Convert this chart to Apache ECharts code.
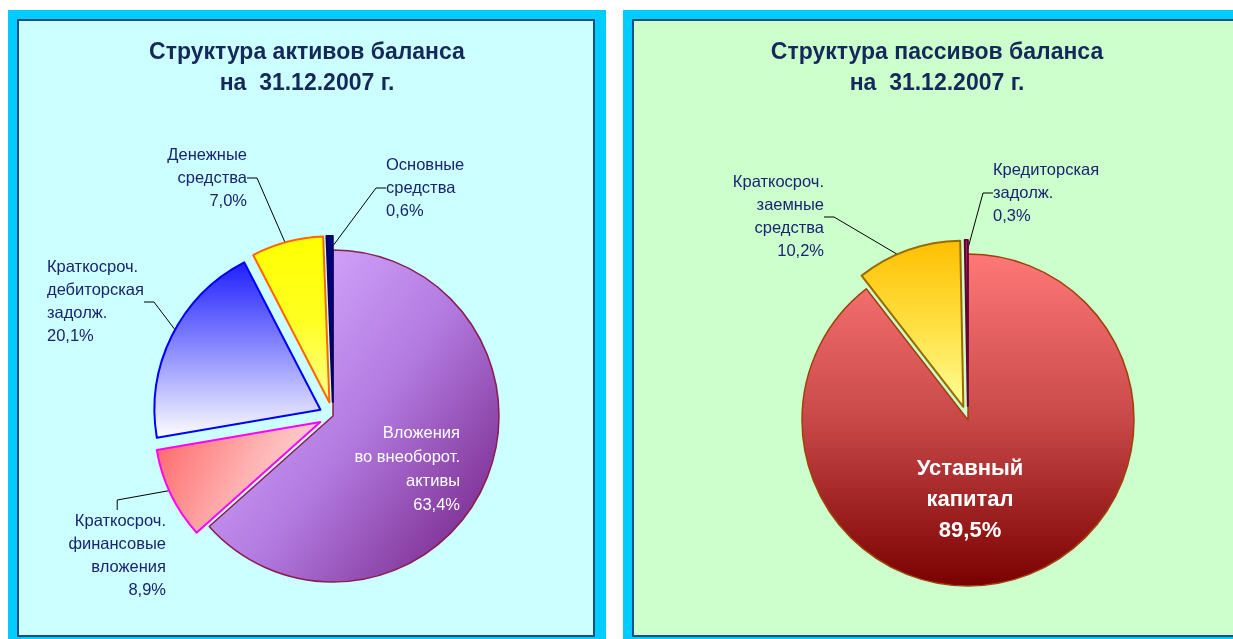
<!DOCTYPE html>
<html>
<head>
<meta charset="utf-8">
<title>Структура баланса</title>
<script src="https://cdn.jsdelivr.net/npm/echarts@6/dist/echarts.min.js"></script>
<style>
  html, body { margin: 0; padding: 0; background: #ffffff; }
  #chart { width: 1233px; height: 639px; }
</style>
</head>
<body>
<div id="chart"></div>
<script>
// данные
const assetTitle = 'Структура активов баланса\nна  31.12.2007 г.';
const liabTitle = 'Структура пассивов баланса\nна  31.12.2007 г.';

const assetNames = ['Вложения\nво внеоборот.\nактивы', 'Краткосроч.\nфинансовые\nвложения', 'Краткосроч.\nдебиторская\nзадолж.', 'Денежные\nсредства', 'Основные\nсредства'];
const assetValues = [63.4, 8.9, 20.1, 7.0, 0.6];

const liabNames = ['Уставный\nкапитал', 'Краткосроч.\nзаемные\nсредства', 'Кредиторская\nзадолж.'];
const liabValues = [89.5, 10.2, 0.3];

// оформление
function grad(x, y, x2, y2, stops) {
    return {
        type: 'linear', x: x, y: y, x2: x2, y2: y2,
        colorStops: stops.map(function (c, i) { return {offset: i / (stops.length - 1), color: c}; })
    };
}

const assetColors = [
    grad(0.1, 0.2, 1, 0.8, ['#d6aaff', '#b27ae0', '#7b2b8e']),
    grad(0, 0.2, 1, 0.9, ['#ff6a6a', '#ffb0b0', '#ffe6e6']),
    grad(0, 0, 0, 1, ['#1e1eff', '#8c8cff', '#ffffff']),
    grad(0, 0, 0, 1, ['#ffff00', '#ffff20', '#ffff90']),
    '#000080'
];
const assetBorders = ['#8a1c50', '#ff00ff', '#0000ff', '#ff6600', '#000060'];

const liabColors = [
    grad(0, 0, 0, 1, ['#ff7878', '#c84848', '#7a0000']),
    grad(0, 0, 0, 1, ['#ffbf00', '#ffdf40', '#ffff9a']),
    '#993366'
];
const liabBorders = ['#a0400a', '#9a6a00', '#660033'];

// позиции подписей: [x, y, выравнивание]
const assetLabelPos = [[460, 469, 'right'], [166, 556, 'right'], [47, 302, 'left'], [247, 178, 'right'], [386, 188, 'left']];
const liabLabelPos = [[970, 500, 'center'], [824, 217, 'right'], [993, 193, 'left']];

const FONT = '"Liberation Sans", Arial, sans-serif';

function pct(v) {
    return v.toFixed(1).replace('.', ',') + '%';
}

function fmt(p) {
    return p.name + '\n' + pct(p.value);
}

function placer(pos) {
    return function (p) {
        const q = pos[p.dataIndex];
        return {x: q[0], y: q[1], align: q[2], verticalAlign: 'middle'};
    };
}

// видимый круг: все сектора, кроме первого, выдвинуты
function slices(names, values, colors, borders, insideLabel) {
    return names.map(function (n, i) {
        const style = {color: colors[i], borderColor: borders[i], borderWidth: i === 0 ? 1.5 : 2};
        const item = {
            name: n,
            value: values[i],
            selected: i > 0,
            itemStyle: style,
            select: {itemStyle: style},
            label: {show: false},
            labelLine: {show: false}
        };
        if (i === 0) {
            item.label = Object.assign({show: true, position: 'inside', formatter: fmt, fontFamily: FONT}, insideLabel);
        }
        return item;
    });
}

// прозрачный круг под видимым - несёт внешние подписи с выносками
function labelSlices(names, values) {
    return names.map(function (n, i) {
        return {
            name: n,
            value: values[i],
            label: {show: i > 0},
            labelLine: {show: i > 0}
        };
    });
}

function pieSeries(center, data, pos) {
    return {
        type: 'pie',
        z: 2,
        center: center,
        radius: 166,
        startAngle: 90,
        clockwise: true,
        selectedMode: 'multiple',
        selectedOffset: 14,
        avoidLabelOverlap: false,
        silent: true,
        emphasis: {disabled: true},
        labelLayout: placer(pos),
        data: data
    };
}

function labelSeries(center, data, pos) {
    return {
        type: 'pie',
        z: 1,
        center: center,
        radius: 166,
        startAngle: 90,
        clockwise: true,
        avoidLabelOverlap: false,
        silent: true,
        emphasis: {disabled: true},
        itemStyle: {color: 'rgba(0,0,0,0)', borderWidth: 0},
        label: {
            position: 'outside',
            formatter: fmt,
            color: '#1b2470',
            fontFamily: FONT,
            fontSize: 16.5,
            lineHeight: 23
        },
        labelLine: {length: 12, length2: 10, smooth: false, lineStyle: {color: '#000000', width: 1}},
        labelLayout: placer(pos),
        data: data
    };
}

const chart = echarts.init(document.getElementById('chart'));

chart.setOption({
    animation: false,
    graphic: [
        {type: 'rect', z: -10, shape: {x: 8, y: 10, width: 598, height: 629}, style: {fill: '#00ccff'}},
        {type: 'rect', z: -9, shape: {x: 18, y: 20, width: 576, height: 616}, style: {fill: '#ccffff', stroke: '#1d4e7e', lineWidth: 2}},
        {type: 'rect', z: -10, shape: {x: 623, y: 10, width: 620, height: 629}, style: {fill: '#00ccff'}},
        {type: 'rect', z: -9, shape: {x: 633, y: 20, width: 620, height: 616}, style: {fill: '#ccffcc', stroke: '#1d4e7e', lineWidth: 2}},
        {
            type: 'text', z: 5, x: 307, y: 68,
            style: {text: assetTitle, textAlign: 'center', textVerticalAlign: 'middle', lineHeight: 31,
                font: 'bold 23px ' + FONT, fill: '#15285a'}
        },
        {
            type: 'text', z: 5, x: 937, y: 68,
            style: {text: liabTitle, textAlign: 'center', textVerticalAlign: 'middle', lineHeight: 31,
                font: 'bold 23px ' + FONT, fill: '#15285a'}
        }
    ],
    series: [
        labelSeries([333, 416], labelSlices(assetNames, assetValues), assetLabelPos),
        pieSeries([333, 416], slices(assetNames, assetValues, assetColors, assetBorders,
            {color: '#ffffff', fontSize: 16.5, lineHeight: 24}), assetLabelPos),
        labelSeries([968, 420], labelSlices(liabNames, liabValues), liabLabelPos),
        pieSeries([968, 420], slices(liabNames, liabValues, liabColors, liabBorders,
            {color: '#ffffff', fontSize: 22, fontWeight: 'bold', lineHeight: 31}), liabLabelPos)
    ]
});
</script>
</body>
</html>
